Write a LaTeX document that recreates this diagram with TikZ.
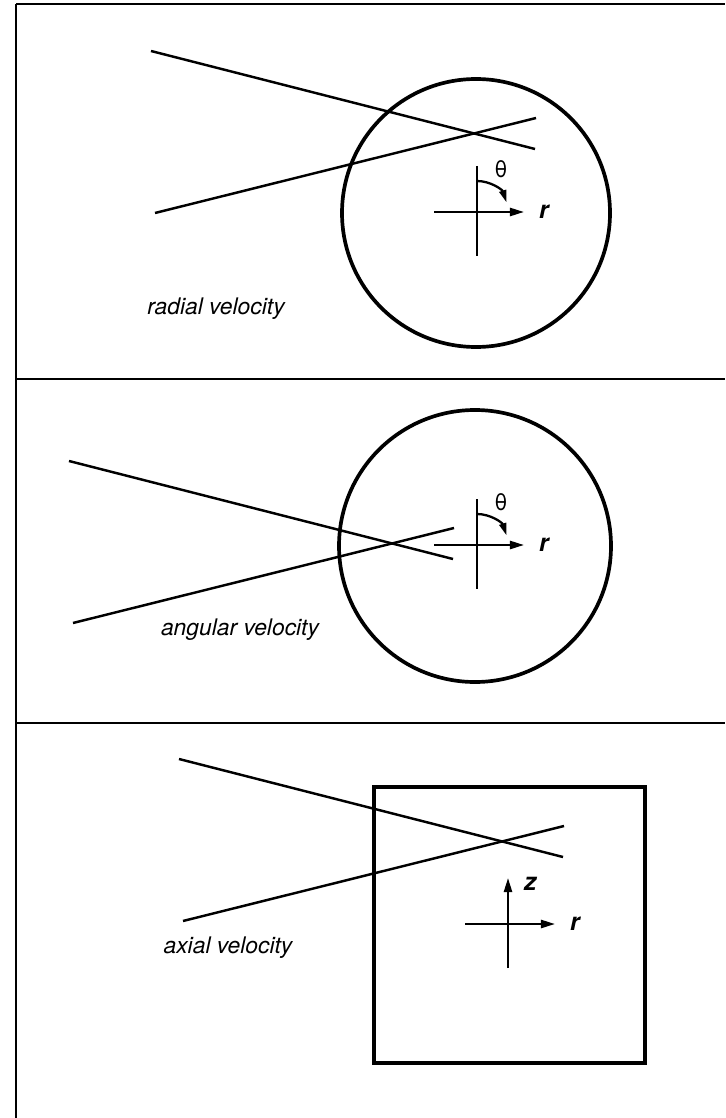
\documentclass[tikz,border=0pt]{standalone}
\usepackage{fontspec}
\setmainfont{TeX Gyre Heros}
\usetikzlibrary{arrows.meta,calc,positioning}

\begin{document}
\begin{tikzpicture}[x=0.02cm,y=-0.02cm,
  frame/.style={line width=1.6pt},
  ray/.style={line width=1.4pt},
  tube/.style={line width=2.1pt},
  axis/.style={line width=1.3pt},
  vec/.style={axis,-{Triangle[length=8pt,width=4.6pt]}},
  turn/.style={line width=1.3pt,-{Triangle[length=7pt,width=4pt]}},
  lbl/.style={font=\fontsize{13}{15}\selectfont\itshape},
  sym/.style={font=\fontsize{14}{16}\selectfont\bfseries\itshape},
  ang/.style={font=\fontsize{13}{15}\selectfont}]
  \useasboundingbox (0,0) rectangle (725,1118);

  % frame
  \coordinate (ftl) at (16,4);
  \coordinate (ftr) at (725,4);
  \coordinate (fbl) at (16,1118);
  \coordinate (d1l) at (16,379);
  \coordinate (d1r) at (725,379);
  \coordinate (d2l) at (16,723);
  \coordinate (d2r) at (725,723);
  \draw[frame,line width=1.2pt] (fbl) -- (ftl);
  \draw[frame] (ftl) -- (ftr);
  \draw[frame] (d1l) -- (d1r);
  \draw[frame] (d2l) -- (d2r);

  % two rays, given the left end of the upper one
  \def\rays(#1,#2)#3{
    \coordinate (#3a) at (#1,#2);
    \coordinate (#3b) at (#1+384,#2+98);
    \coordinate (#3c) at (#1+4,#2+162);
    \coordinate (#3d) at (#1+385,#2+67);
    \draw[ray] (#3a) -- (#3b);
    \draw[ray] (#3c) -- (#3d);
  }
  % axes cross
  \def\cross(#1,#2)#3{
    \coordinate (#3) at (#1,#2);
    \coordinate (#3w) at (#1-43,#2);
    \coordinate (#3e) at (#1+47,#2);
    \coordinate (#3n) at (#1,#2-46);
    \coordinate (#3s) at (#1,#2+44);
    \draw[vec] (#3w) -- (#3e);
    \node[sym,right=5pt of #3e] (#3r) {r};
  }
  % theta turn
  \def\turn#1{
    \coordinate (#1t) at ($(#1)+(0,-31)$);
    \draw[axis] (#1n) -- (#1s);
    \draw[turn] (#1t) arc[start angle=-90,end angle=-18,radius=31];
    \node[ang] (#1h) at ($(#1)+(24,-43)$) {θ};
  }

  % radial velocity
  \rays(151,51){p}
  \cross(477,212){c}
  \turn{c}
  \node[tube,draw,circle,minimum size=268*0.02cm,inner sep=0pt] (tb1) at (476,213) {};
  \node[lbl] (rv) at (216,309) {radial velocity};

  % angular velocity
  \rays(69,461){q}
  \cross(477,545){k}
  \turn{k}
  \node[tube,draw,circle,minimum size=272*0.02cm,inner sep=0pt] (tb2) at (475,546) {};
  \node[lbl] (av) at (240,630) {angular velocity};

  % axial velocity
  \rays(179,759){s}
  \cross(508,924){m}
  \draw[vec] (ms) -- (mn);
  \node[sym,anchor=west] (mz) at ($(mn)+(10,6)$) {z};
  \coordinate (sq1) at (374,787);
  \coordinate (sq2) at (645,1063);
  \draw[tube] (sq1) rectangle (sq2);
  \node[lbl] (xv) at (228,948) {axial velocity};
\end{tikzpicture}
\end{document}
